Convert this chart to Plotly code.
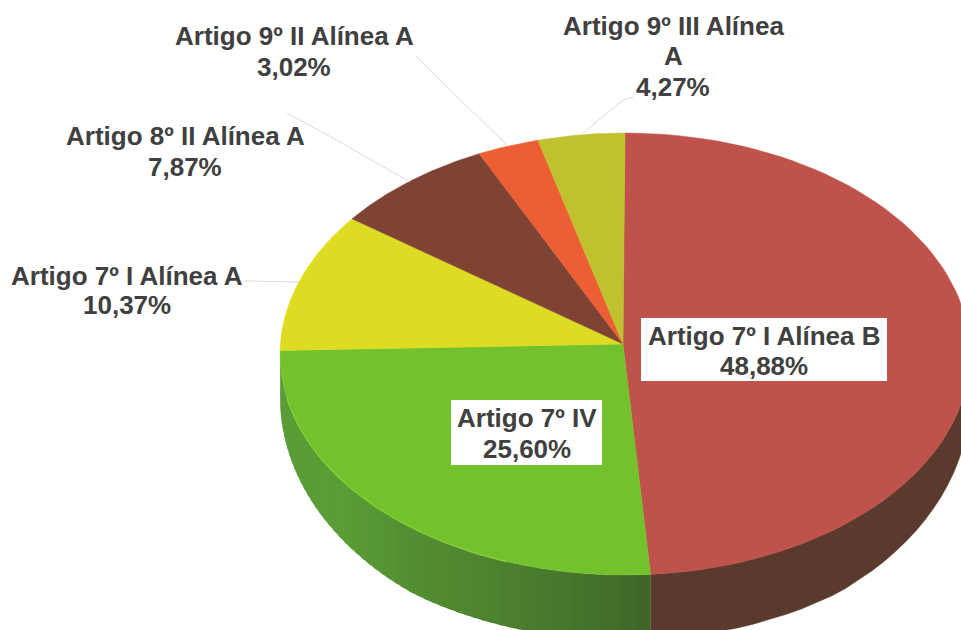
import numpy as np
import plotly.graph_objects as go

# ---- data ----
categories = ["Artigo 7º I Alínea B", "Artigo 7º IV", "Artigo 7º I Alínea A",
              "Artigo 8º II Alínea A", "Artigo 9º II Alínea A", "Artigo 9º III Alínea A"]
values = [48.88, 25.60, 10.37, 7.87, 3.02, 4.27]
value_labels = ["48,88%", "25,60%", "10,37%", "7,87%", "3,02%", "4,27%"]
top_colors = ["#BF534B", "#73C22D", "#DDDC23", "#7E4332", "#EC5F34", "#BFC22E"]

# ---- geometry of the tilted pie, in canvas pixels ----
W, H = 961, 630
CX, CY, RX, RY = 625, 354, 345, 221
AX, AY = 623, 344
WARP = 2.8   # perspective shift of the slice boundaries, in degrees
TEXT = "#404040"
FONT = "Liberation Sans"

def pt(deg, dy=0):
    t = np.radians(deg)
    return CX + RX * np.sin(t), CY - RY * np.cos(t) + dy

def depth(deg):
    # the rim wall tapers towards the left and right extremes of the ellipse
    return np.minimum(65, 43 + 28 * np.abs(np.cos(np.radians(deg))))

def blend(a, b, f):
    ca = [int(a[i:i+2], 16) for i in (1, 3, 5)]
    cb = [int(b[i:i+2], 16) for i in (1, 3, 5)]
    return "rgb(%d,%d,%d)" % tuple(round(x + (y - x) * f) for x, y in zip(ca, cb))

fig = go.Figure()
def poly(x, y, color, lw=0.5):
    fig.add_trace(go.Scatter(x=list(x), y=list(y), mode="lines", fill="toself",
                             fillcolor=color, line=dict(color=color, width=lw),
                             hoverinfo="skip", showlegend=False))

total = sum(values)
cum = np.concatenate([[0], np.cumsum(values)]) / total * 360
cum = cum - WARP * np.sin(np.radians(cum))

# side wall: only the front half of the rim shows
red_end, green_end = cum[1], cum[2]
def wall(a, b, color, lw=0.5):
    t = np.linspace(a, b, 30)
    xt, yt = pt(t)
    xb, yb = pt(t, depth(t))
    poly(np.r_[xt, xb[::-1]], np.r_[yt, yb[::-1]], color, lw)

wall(90, red_end, "#5B3A2E")
bands = np.linspace(red_end, 270, 61)
for i in range(len(bands) - 2, -1, -1):
    f = i / (len(bands) - 2)
    wall(bands[i], bands[i + 1] + 0.6, blend("#3F6628", "#5A9C35", min(1, (f * 1.6) ** 0.8)), lw=0)

# top faces
for i, c in enumerate(top_colors):
    t = np.linspace(cum[i], cum[i + 1], 80)
    xa, ya = pt(t)
    poly(np.r_[AX, xa, AX], np.r_[AY, ya, AY], c)

# highlight along the green rim
t = np.linspace(200, 258, 60)
xh, yh = pt(t)
fig.add_trace(go.Scatter(x=xh, y=yh, mode="lines", line=dict(color="#84CC38", width=1.5),
                         hoverinfo="skip", showlegend=False))

# leader lines
leaders = [
    ([583, 623, 633], [133, 100, 97]),
    ([507, 450, 416], [145, 90, 56]),
    ([410, 340, 287], [182, 142, 113]),
    ([298, 260, 245], [282, 281, 281]),
]
for lx, ly in leaders:
    fig.add_trace(go.Scatter(x=lx, y=ly, mode="lines", line=dict(color="#D3DCE3", width=1),
                             hoverinfo="skip", showlegend=False))

# white label boxes
shapes = [
    dict(type="rect", x0=641, x1=887, y0=318, y1=381, fillcolor="white", line_width=0, layer="above"),
    dict(type="rect", x0=451, x1=602, y0=400, y1=465, fillcolor="white", line_width=0, layer="above"),
]

# text lines: (text, centre x, centre y)
lines = [
    ("Artigo 9º III Alínea", 673, 26), ("A", 673, 56), (value_labels[5], 673, 87),
    (categories[4], 294, 36), (value_labels[4], 294, 67),
    (categories[3], 185, 136), (value_labels[3], 185, 167),
    (categories[2], 127, 276), (value_labels[2], 127, 305),
    (categories[0], 764, 336), (value_labels[0], 764, 366),
    (categories[1], 527, 418), (value_labels[1], 527, 449),
]
annotations = [dict(text=f"<b>{s}</b>", x=x, y=y, xref="x", yref="y", showarrow=False,
                    xanchor="center", yanchor="middle",
                    font=dict(family=FONT, size=26, color=TEXT)) for s, x, y in lines]

fig.update_layout(
    width=W, height=H, margin=dict(l=0, r=0, t=0, b=0),
    paper_bgcolor="white", plot_bgcolor="white", showlegend=False,
    xaxis=dict(range=[0, W], visible=False, fixedrange=True),
    yaxis=dict(range=[H, 0], visible=False, fixedrange=True),
    shapes=shapes, annotations=annotations,
)
fig.write_html("out.html", config=dict(displayModeBar=False),
               post_script="document.body.style.margin='0';document.documentElement.style.overflow='hidden';")
